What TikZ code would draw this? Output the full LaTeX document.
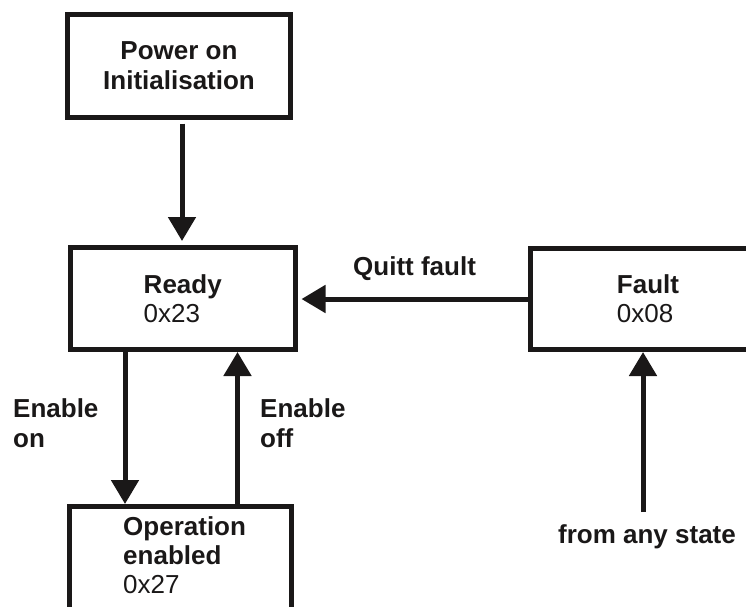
\documentclass[tikz,border=0pt]{standalone}
\usepackage{fontspec}
\setmainfont{Liberation Sans}
\usetikzlibrary{arrows.meta}
\definecolor{ink}{HTML}{1A1818}
\begin{document}
\begin{tikzpicture}[x=1pt,y=-1pt,
  box/.style={draw=ink, text=ink, line width=5pt, inner sep=0pt, align=left,
    font=\fontsize{26}{29}\selectfont},
  lbl/.style={text=ink, inner sep=0pt, align=left,
    font=\bfseries\fontsize{26}{30}\selectfont},
  arr/.style={draw=ink, line width=5pt, -{Triangle[length=24pt,width=27pt]}}]
\useasboundingbox (0,0) rectangle (746,606);
\clip (0,0) rectangle (746,606);
% boxes
\node[box, align=center, font=\bfseries\fontsize{26}{30}\selectfont,
  minimum width=223pt, minimum height=102.5pt] (power) at (179,65.75)
  {Power on\\Initialisation};
\node[box, minimum width=224.5pt, minimum height=102pt] (ready) at (182.75,298.5)
  {\textbf{Ready}\\0x23};
\node[box, minimum width=235pt, minimum height=101pt] (fault) at (648,299)
  {\textbf{Fault}\\0x08};
\node[box, minimum width=222pt, minimum height=150pt, anchor=north] (op) at (180.5,504) {};
\node[lbl, font=\fontsize{26}{29}\selectfont, anchor=north west] (optxt) at (123,516)
  {\textbf{Operation}\\\textbf{enabled}\\0x27};
% labels
\node[lbl, anchor=base west] (quitt) at (353,275) {Quitt fault};
\node[lbl, anchor=north west] (enon) at (13,398) {Enable\\on};
\node[lbl, anchor=north west] (enoff) at (260,398) {Enable\\off};
\node[lbl, anchor=base] (any) at (647,543) {from any state};
% connector helpers
\coordinate (xp) at (182,0);
\coordinate (xa) at (125,0);
\coordinate (xb) at (237.5,0);
\coordinate (xc) at (643,512);
% connectors
\draw[arr, shorten <=4pt, shorten >=4pt] (power.south -| xp) -- (ready.north -| xp);
\draw[arr, shorten >=4pt] (fault.west) -- (fault.west -| ready.east);
\draw[arr] (ready.south -| xa) -- (op.north -| xa);
\draw[arr] (op.north -| xb) -- (ready.south -| xb);
\draw[arr] (xc) -- (xc |- fault.south);
\end{tikzpicture}
\end{document}
